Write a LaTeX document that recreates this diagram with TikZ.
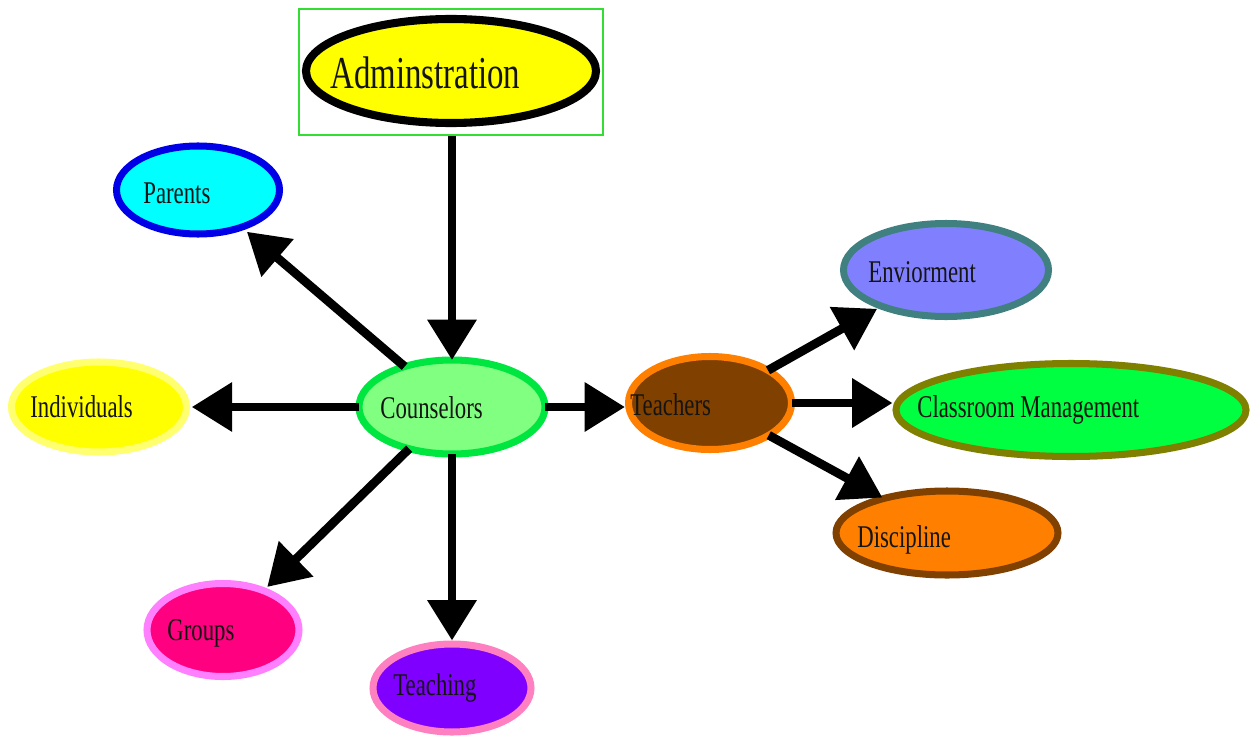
\documentclass[tikz,border=0pt]{standalone}
\usepackage{fontspec}
\setmainfont{Liberation Serif}[FakeStretch=0.72]
\usetikzlibrary{shapes.geometric,arrows.meta}
\definecolor{cParF}{HTML}{00FFFF}\definecolor{cParD}{HTML}{0000E6}
\definecolor{cIndF}{HTML}{FFFF00}\definecolor{cIndD}{HTML}{FFFF70}
\definecolor{cCouF}{HTML}{80FF80}\definecolor{cCouD}{HTML}{00E640}
\definecolor{cTeaF}{HTML}{804000}\definecolor{cTeaD}{HTML}{FF8000}
\definecolor{cEnvF}{HTML}{8080FF}\definecolor{cEnvD}{HTML}{408080}
\definecolor{cClaF}{HTML}{00FF40}\definecolor{cClaD}{HTML}{808000}
\definecolor{cDisF}{HTML}{FF8000}\definecolor{cDisD}{HTML}{804000}
\definecolor{cGroF}{HTML}{FF0080}\definecolor{cGroD}{HTML}{FF80FF}
\definecolor{cTchF}{HTML}{8000FF}\definecolor{cTchD}{HTML}{FF80C0}
\definecolor{cAdmF}{HTML}{FFFF00}
\definecolor{cBox}{HTML}{33DD33}
\newcommand\pxu{0.02cm}
\tikzset{
  bubble/.style={ellipse, line width=4pt, inner sep=0pt, outer sep=0pt},
  lbl/.style={anchor=west, inner sep=0pt, font=\fontsize{18}{18}\selectfont, text=black!92},
  arr/.style={line width=5pt, -{Triangle[length=23pt,width=27pt]}},
}
\begin{document}
\begin{tikzpicture}[x=0.02cm,y=-0.02cm]
\useasboundingbox (0,0) rectangle (1250,740);
% administration
\node[draw=cBox, line width=1.6pt, minimum width=304*\pxu, minimum height=126*\pxu, inner sep=0pt] (adminbox) at (451,72) {};
\node[bubble, draw=black, fill=cAdmF, line width=4.6pt, minimum width=290*\pxu, minimum height=104*\pxu] (admin) at (451,71) {};
\node[lbl, font=\fontsize{26}{26}\selectfont] (admint) at (330,73) {Adminstration};
% nodes
\node[bubble, draw=cParD, fill=cParF, minimum width=163*\pxu, minimum height=88*\pxu] (parents) at (198,190) {};
\node[lbl] (parentst) at (143,193) {Parents};
\node[bubble, draw=cIndD, fill=cIndF, minimum width=175*\pxu, minimum height=90*\pxu] (indiv) at (99,407) {};
\node[lbl] (indivt) at (30,407) {Individuals};
\node[bubble, draw=cCouD, fill=cCouF, minimum width=186*\pxu, minimum height=94*\pxu] (couns) at (452,407) {};
\node[lbl] (counst) at (380,408) {Counselors};
\node[bubble, draw=cTeaD, fill=cTeaF, minimum width=163*\pxu, minimum height=93*\pxu] (teachers) at (710,403) {};
\node[lbl] (teacherst) at (630,405) {Teachers};
\node[bubble, draw=cEnvD, fill=cEnvF, minimum width=205*\pxu, minimum height=93*\pxu] (env) at (946,270) {};
\node[lbl] (envt) at (868,272) {Enviorment};
\node[bubble, draw=cClaD, fill=cClaF, minimum width=350*\pxu, minimum height=93*\pxu] (class) at (1071,410) {};
\node[lbl] (classt) at (917,410) {Classroom Management};
\node[bubble, draw=cDisD, fill=cDisF, minimum width=222*\pxu, minimum height=84*\pxu] (disc) at (947,533) {};
\node[lbl] (disct) at (857,540) {Discipline};
\node[bubble, draw=cGroD, fill=cGroF, minimum width=152*\pxu, minimum height=93*\pxu] (groups) at (223,630) {};
\node[lbl] (groupst) at (167,633) {Groups};
\node[bubble, draw=cTchD, fill=cTchF, minimum width=158*\pxu, minimum height=88*\pxu] (teaching) at (452,688) {};
\node[lbl] (teachingt) at (393,688) {Teaching};
% arrows
\draw[arr] (adminbox.south -| couns.north) -- (couns.north);
\draw[arr, shorten >=4pt] (couns) -- (parents);
\draw[arr, shorten >=3pt] (couns) -- (indiv);
\draw[arr, shorten >=3pt] (couns) -- (groups);
\draw[arr, shorten >=2pt] (couns) -- (teaching);
\draw[arr, shorten >=2pt] (couns) -- (couns -| teachers.west);
\draw[arr, shorten >=3pt] (teachers) -- (env);
\draw[arr, shorten >=2pt] (teachers) -- (teachers -| class.west);
\draw[arr, shorten >=1pt] (teachers) -- (disc);
\end{tikzpicture}
\end{document}
